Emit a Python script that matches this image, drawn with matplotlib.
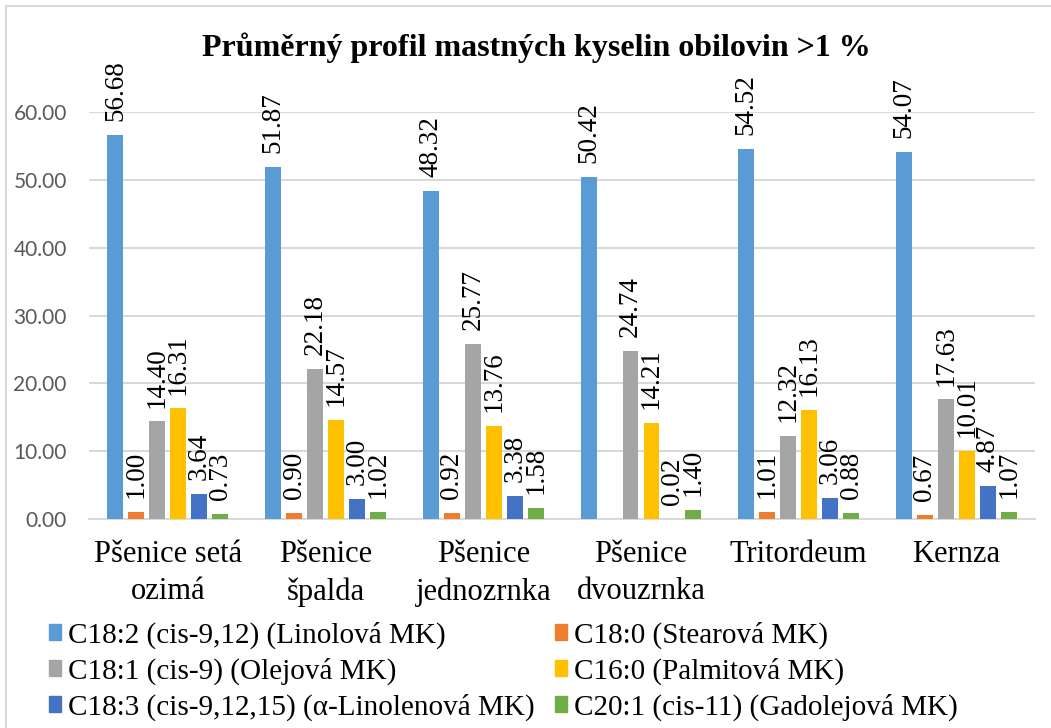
import matplotlib
matplotlib.use("Agg")
import matplotlib.pyplot as plt
from matplotlib.patches import Patch, Rectangle
import numpy as np

categories = ["Pšenice setá\nozimá", "Pšenice\nšpalda", "Pšenice\njednozrnka",
              "Pšenice\ndvouzrnka", "Tritordeum", "Kernza"]

series_names = [
    "C18:2 (cis-9,12) (Linolová MK)",
    "C18:0 (Stearová MK)",
    "C18:1 (cis-9) (Olejová MK)",
    "C16:0 (Palmitová MK)",
    "C18:3 (cis-9,12,15) (α-Linolenová MK)",
    "C20:1 (cis-11) (Gadolejová MK)",
]

linolova = [56.68, 51.87, 48.32, 50.42, 54.52, 54.07]
stearova = [1.00, 0.90, 0.92, np.nan, 1.01, 0.67]
olejova = [14.40, 22.18, 25.77, 24.74, 12.32, 17.63]
palmitova = [16.31, 14.57, 13.76, 14.21, 16.13, 10.01]
linolenova = [3.64, 3.00, 3.38, 0.02, 3.06, 4.87]
gadolejova = [0.73, 1.02, 1.58, 1.40, 0.88, 1.07]

values = [linolova, stearova, olejova, palmitova, linolenova, gadolejova]
colors = ["#5B9BD5", "#ED7D31", "#A5A5A5", "#FFC000", "#4472C4", "#70AD47"]

serif = "Liberation Serif"
fig = plt.figure(figsize=(10.51, 7.28), dpi=100)
ax = fig.add_axes([0.0847, 0.287, 0.9003, 0.559])

x = np.arange(len(categories))
pitch = 0.133
width = 0.101
for i, (vals, col) in enumerate(zip(values, colors)):
    pos = x + (i - 2.5) * pitch
    ax.bar(pos, vals, width=width, color=col, zorder=3)
    for px, v in zip(pos, vals):
        if np.isnan(v):
            continue
        ax.annotate(f"{v:.2f}", (px, v), xytext=(0, 10), textcoords="offset points",
                    rotation=90, ha="center", va="bottom", fontsize=19.5,
                    family=serif, annotation_clip=False)

ax.set_xlim(-0.5, len(categories) - 0.5)
ax.set_ylim(0, 60)
ax.set_yticks(np.arange(0, 61, 10))
ax.yaxis.set_major_formatter(matplotlib.ticker.FormatStrFormatter("%.2f"))
ax.grid(axis="y", color="#D9D9D9", linewidth=1.5, zorder=0)
ax.set_axisbelow(True)
for s in ["top", "right", "left"]:
    ax.spines[s].set_visible(False)
ax.spines["bottom"].set_color("#D9D9D9")
ax.spines["bottom"].set_linewidth(1.5)
ax.tick_params(axis="y", length=0, labelsize=15, labelcolor="#595959", pad=16)
for lbl in ax.get_yticklabels():
    lbl.set_family("Lato")
ax.set_xticks(x)
ax.set_xticklabels(categories, family=serif, fontsize=22, linespacing=1.38)
ax.tick_params(axis="x", length=0, pad=15)

fig.text(0.510, 0.934, "Průměrný profil mastných kyselin obilovin >1 %",
         ha="center", va="center", fontsize=23, fontweight="bold", family=serif)

handles = [Patch(color=c, label=n) for c, n in zip(colors, series_names)]
order = [0, 2, 4, 1, 3, 5]
fig.legend([handles[i] for i in order], [series_names[i] for i in order],
           ncol=2, loc="lower left", bbox_to_anchor=(0.03, -0.014), frameon=False,
           prop={"family": serif, "size": 21}, handlelength=0.4, handleheight=0.5,
           handletextpad=0.25, columnspacing=0.7, labelspacing=0.3,
           borderaxespad=0.2)

fig.patches.append(Rectangle((6 / 1051, -0.05), 1.2, 1.05 - 6 / 728, transform=fig.transFigure,
                             fill=False, edgecolor="#D9D9D9", linewidth=1.5))

fig.savefig("out.png", dpi=100)
